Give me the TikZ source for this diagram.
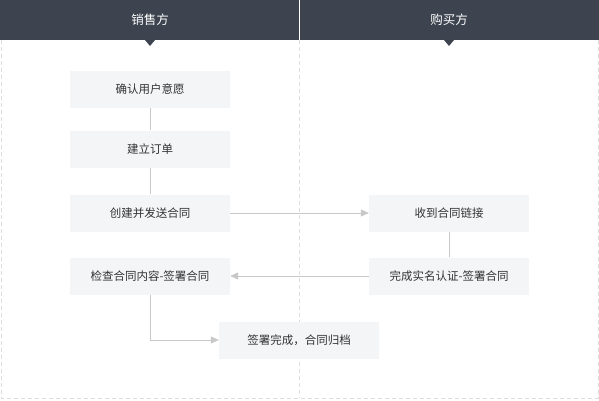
\documentclass[tikz,border=0pt]{standalone}
\usepackage{fontspec}
\setmainfont{Noto Sans CJK SC}
\usetikzlibrary{arrows.meta}
\definecolor{hdr}{HTML}{3D444F}
\definecolor{boxfill}{HTML}{F4F5F7}
\definecolor{lnc}{HTML}{C8C8C8}
\definecolor{dashc}{HTML}{DDDDDD}
\definecolor{txt}{HTML}{333333}
\tikzset{
  stepbox/.style={fill=boxfill, minimum width=160pt, minimum height=37pt, inner sep=0pt, text=txt, font=\fontsize{11.5}{13}\selectfont},
  conn/.style={draw=lnc, line width=0.8pt},
  arr/.style={conn, -{Triangle[length=8pt,width=7pt,fill=lnc]}},
  lanedash/.style={draw=dashc, dashed, dash pattern=on 4pt off 3pt, line width=0.7pt},
  headtext/.style={text=white, font=\fontsize{12.5}{14}\selectfont}
}
\begin{document}
\begin{tikzpicture}[x=1pt,y=-1pt]
\useasboundingbox (0,0) rectangle (599,400);
% lane borders
\draw[lanedash] (1,40) -- (1,398) -- (598,398) -- (598,40);
\draw[lanedash] (299,40) -- (299,398);
% header
\fill[hdr] (0,0) rectangle (599,40);
\draw[white, line width=0.8pt] (299.5,0) -- (299.5,40);
\fill[hdr] (145,40) -- (155,40) -- (150,46) -- cycle;
\fill[hdr] (444,40) -- (454,40) -- (449,46) -- cycle;
\node[headtext] (hs) at (150,20) {销售方};
\node[headtext] (hb) at (449,20) {购买方};
% boxes
\node[stepbox] (a) at (150,89) {确认用户意愿};
\node[stepbox] (b) at (150,149) {建立订单};
\node[stepbox] (c) at (150,213) {创建并发送合同};
\node[stepbox] (d) at (150,276) {检查合同内容-签署合同};
\node[stepbox] (e) at (449,213) {收到合同链接};
\node[stepbox] (f) at (449,276) {完成实名认证-签署合同};
\node[stepbox] (g) at (299,340) {签署完成，合同归档};
% connectors
\draw[conn] (a) -- (b);
\draw[conn] (b) -- (c);
\draw[arr] (c) -- (e);
\draw[conn] (e) -- (f);
\draw[arr] (f) -- (d);
\draw[arr] (d.south) |- (g.west);
\end{tikzpicture}
\end{document}
